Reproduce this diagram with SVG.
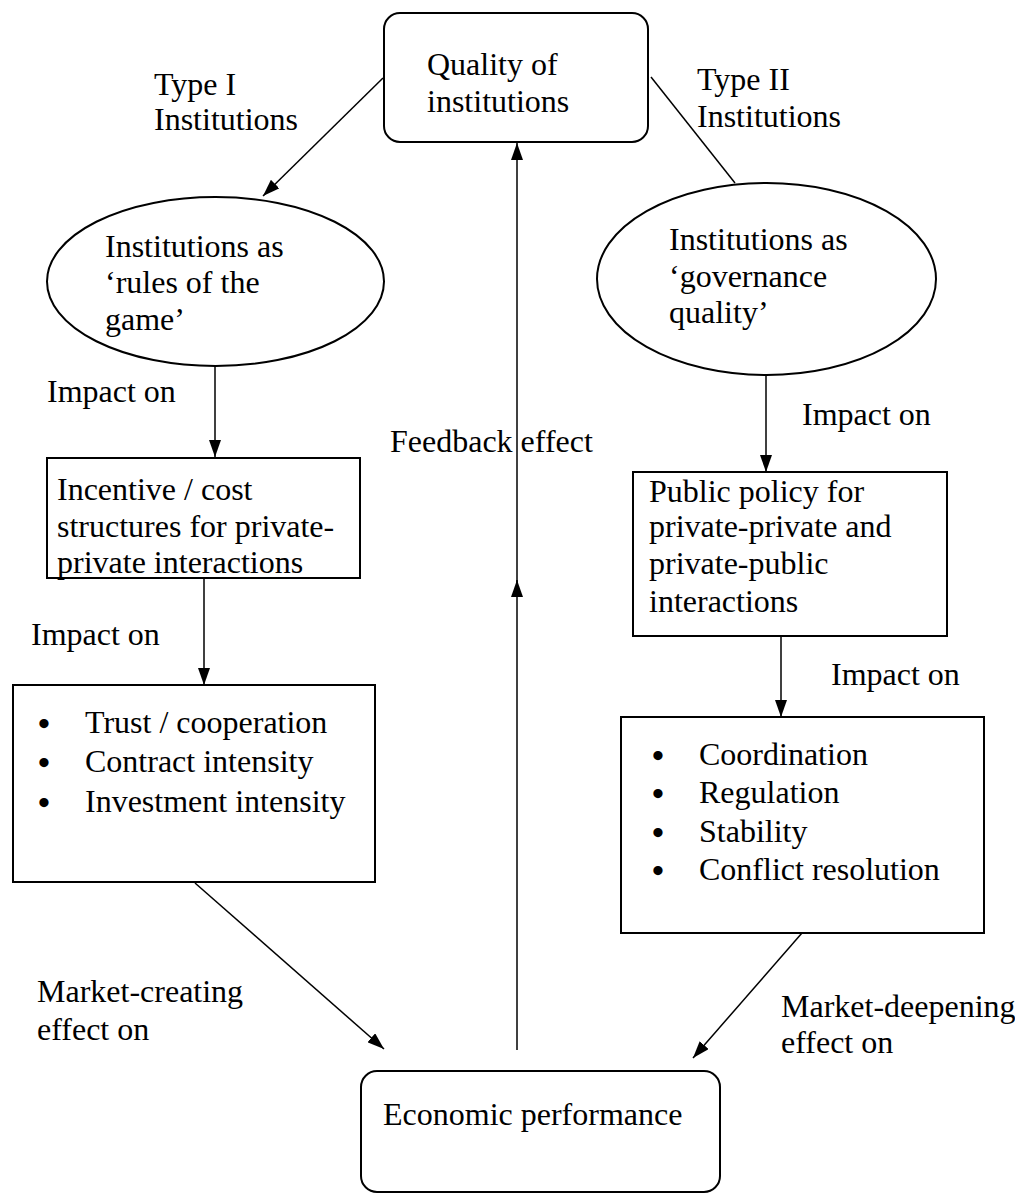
<svg xmlns="http://www.w3.org/2000/svg" width="1015" height="1194" viewBox="0 0 1015 1194">
<style>
text{font-family:"Liberation Serif","Times New Roman",serif;font-size:32px;fill:#000}
text.b{font-size:34px;font-weight:bold}
.box{fill:#fff;stroke:#000;stroke-width:2}
.ln{stroke:#000;stroke-width:1.5;fill:none}
</style>
<defs>
<marker id="ah" markerUnits="userSpaceOnUse" markerWidth="18" markerHeight="12" refX="17" refY="6" orient="auto">
<path d="M0,0 L17,6 L0,12 z" fill="#000"/>
</marker>
</defs>
<rect width="1015" height="1194" fill="#fff"/>
<g id="connectors">
<line class="ln" x1="383" y1="78" x2="263" y2="196" marker-end="url(#ah)"/>
<line class="ln" x1="651" y1="77" x2="735" y2="183"/>
<line class="ln" x1="215" y1="366" x2="215" y2="457" marker-end="url(#ah)"/>
<line class="ln" x1="766" y1="375" x2="766" y2="472" marker-end="url(#ah)"/>
<line class="ln" x1="204" y1="578" x2="204" y2="685" marker-end="url(#ah)"/>
<line class="ln" x1="781" y1="627" x2="781" y2="717" marker-end="url(#ah)"/>
<line class="ln" x1="195" y1="883" x2="384" y2="1049" marker-end="url(#ah)"/>
<line class="ln" x1="802" y1="933" x2="693" y2="1058" marker-end="url(#ah)"/>
<line class="ln" x1="517" y1="1050" x2="517" y2="580" marker-end="url(#ah)"/>
<line class="ln" x1="517" y1="590" x2="517" y2="143" marker-end="url(#ah)"/>
</g>
<g id="labels">
<text x="154" y="95">Type I</text>
<text x="154" y="130">Institutions</text>
<text x="697" y="90">Type II</text>
<text x="697" y="127">Institutions</text>
<text x="47" y="402">Impact on</text>
<text x="802" y="425">Impact on</text>
<text x="390" y="452">Feedback effect</text>
<text x="31" y="645">Impact on</text>
<text x="831" y="685">Impact on</text>
<text x="37" y="1002">Market-creating</text>
<text x="37" y="1040">effect on</text>
<text x="781" y="1017">Market-deepening</text>
<text x="781" y="1053">effect on</text>
</g>
<g id="quality">
<rect class="box" x="384" y="13" width="264" height="129" rx="16"/>
<text x="427" y="75">Quality of</text>
<text x="427" y="112">institutions</text>
</g>
<g id="rules">
<ellipse class="box" cx="215.5" cy="281.5" rx="168.5" ry="84.5"/>
<text x="105" y="257">Institutions as</text>
<text x="105" y="293">‘rules of the</text>
<text x="105" y="330">game’</text>
</g>
<g id="governance">
<ellipse class="box" cx="766.5" cy="279" rx="169.5" ry="96"/>
<text x="669" y="250">Institutions as</text>
<text x="669" y="287">‘governance</text>
<text x="669" y="323">quality’</text>
</g>
<g id="incentive">
<rect class="box" x="47" y="458" width="313" height="120"/>
<text x="57" y="500">Incentive / cost</text>
<text x="57" y="537">structures for private-</text>
<text x="57" y="573">private interactions</text>
</g>
<g id="publicpolicy">
<rect class="box" x="633" y="472" width="314" height="164"/>
<text x="649" y="502">Public policy for</text>
<text x="649" y="537">private-private and</text>
<text x="649" y="574">private-public</text>
<text x="649" y="612">interactions</text>
</g>
<g id="trust">
<rect class="box" x="13" y="685" width="362" height="197"/>
<text class="b" x="38" y="735">•</text><text x="85" y="733">Trust / cooperation</text>
<text class="b" x="38" y="774">•</text><text x="85" y="772">Contract intensity</text>
<text class="b" x="38" y="814">•</text><text x="85" y="812">Investment intensity</text>
</g>
<g id="coordination">
<rect class="box" x="621" y="717" width="363" height="216"/>
<text class="b" x="652" y="767">•</text><text x="699" y="765">Coordination</text>
<text class="b" x="652" y="805">•</text><text x="699" y="803">Regulation</text>
<text class="b" x="652" y="844">•</text><text x="699" y="842">Stability</text>
<text class="b" x="652" y="882">•</text><text x="699" y="880">Conflict resolution</text>
</g>
<g id="economic">
<rect class="box" x="361" y="1071" width="359" height="121" rx="16"/>
<text x="383" y="1125">Economic performance</text>
</g>
</svg>
